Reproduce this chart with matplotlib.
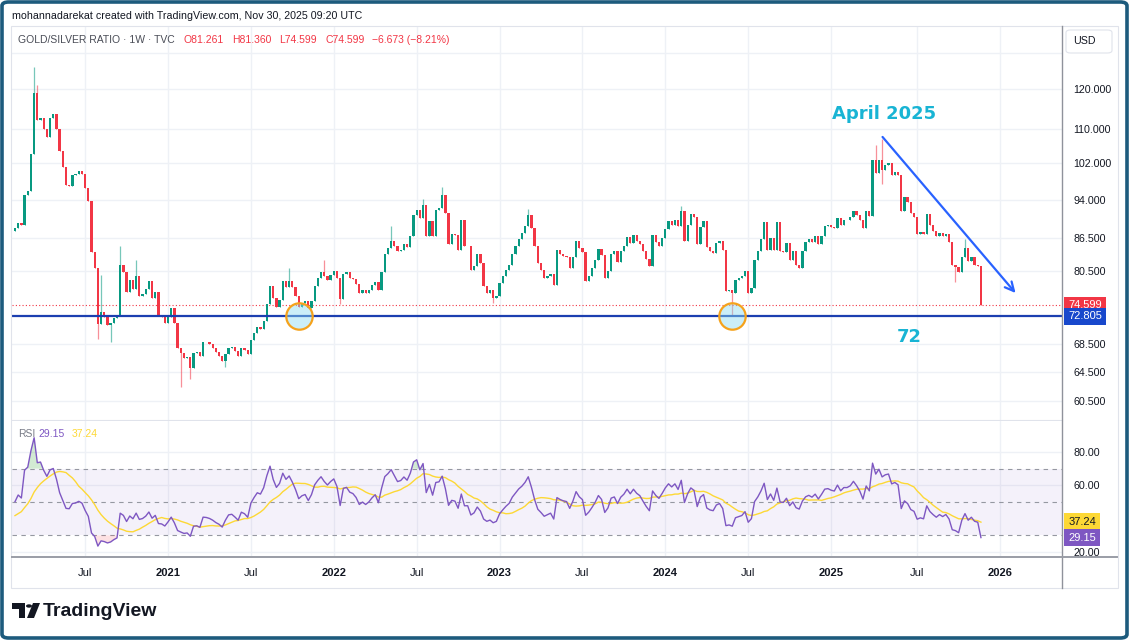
import numpy as np
import pandas as pd
import matplotlib
matplotlib.use("Agg")
import matplotlib.pyplot as plt
import matplotlib.dates as mdates
import matplotlib.transforms as mtransforms
from matplotlib.patches import FancyBboxPatch, Rectangle, Polygon, Circle
from matplotlib.lines import Line2D
from matplotlib.ticker import FixedLocator, NullLocator

plt.rcParams['font.family'] = ['Liberation Sans', 'DejaVu Sans']

# ---------------- data (weekly GOLD/SILVER ratio) ----------------
closes = [
    88.4, 89.4, 89.0, 95.0, 96.0, 104.0, 119.0, 112.0, 112.6, 110.0,
    108.0, 112.5, 113.5, 110.0, 104.7, 101.2, 97.2, 97.0, 99.3, 99.5,
    100.2, 99.5, 96.5, 93.8, 83.8, 81.0, 71.6, 73.5, 72.8, 71.5,
    71.8, 72.5, 73.0, 81.5, 80.3, 76.8, 78.9, 77.4, 79.5, 76.2,
    76.5, 77.3, 78.7, 75.9, 76.8, 72.9, 72.7, 71.7, 72.8, 74.1,
    71.7, 68.0, 67.2, 66.5, 66.6, 65.0, 67.2, 67.3, 66.7, 68.9,
    68.8, 68.5,
    68.0, 67.3, 66.8, 66.0, 67.1, 68.0, 68.1, 67.5, 66.8, 68.0,
    67.7, 67.0, 69.2, 70.2, 71.1, 70.9, 72.1, 74.9, 77.9, 75.8,
    74.4, 75.5, 78.7, 77.6, 78.7, 77.6, 76.2, 74.3, 75.0, 75.3,
    74.1, 75.4, 77.9, 79.2, 80.3, 79.5, 78.9, 79.8, 80.5, 79.3,
    75.6, 80.0, 80.3, 79.3, 79.0, 78.2, 76.7, 77.2, 76.7, 77.2,
    78.0, 78.6, 77.2, 80.3, 83.6, 84.6, 86.0, 85.0, 84.0,
    84.3, 85.3, 84.8, 86.8, 91.0, 92.0, 90.4, 93.0, 86.8, 89.8,
    86.8, 92.0, 92.3, 95.0, 91.4, 85.3, 87.3, 87.0, 84.2, 90.0,
    85.0, 85.0, 80.6, 81.4, 83.6, 81.8, 77.9, 76.7, 77.1, 75.8,
    76.2, 78.4, 79.6, 80.7, 81.6, 83.6, 85.0, 86.4, 87.4, 88.8,
    91.0, 88.5, 85.0, 81.8, 80.6, 79.2, 79.6, 80.0, 78.0, 84.2,
    83.6, 83.2, 83.0, 81.0, 83.0, 86.0, 84.6, 83.8, 78.7, 79.6,
    80.9, 82.4, 84.5, 83.4, 79.2, 80.5, 83.6, 84.0, 82.0, 84.0,
    85.0, 86.7, 85.5, 87.0, 86.0, 85.4, 84.0, 82.6, 81.4, 87.0,
    85.8, 85.0, 86.5, 88.3, 89.7, 89.0, 90.0, 88.8, 91.8, 86.0,
    89.0, 91.2, 90.5, 85.3, 88.7, 89.7, 84.8, 84.0, 83.7, 85.5,
    86.0, 84.3, 77.0, 77.2, 76.6, 78.9, 79.2, 79.5, 80.5, 76.6,
    77.5, 82.5, 84.1, 86.3, 89.5,
    84.2, 86.5, 84.2, 89.6, 84.0, 83.8, 85.6, 82.5, 84.0, 81.6,
    81.0, 84.0, 85.7, 86.3, 85.7, 86.8, 85.3, 86.9, 88.8, 89.0,
    88.6, 88.4, 90.3, 89.0, 90.0, 90.0, 90.5, 91.8, 91.0, 90.0,
    88.4, 91.8, 90.8, 102.6, 99.8, 102.6, 100.5, 101.6, 102.0, 99.4,
    100.0, 99.4, 91.8, 94.6, 93.6, 91.3, 90.6, 87.3, 87.7, 87.3,
    91.1, 89.0, 87.8, 86.8, 87.5, 86.8, 87.3, 85.8, 81.6, 81.2,
    80.3, 83.0, 84.6, 82.3, 83.0, 81.6, 81.261, 74.599,
]
first_open = 87.9
last_date = "2025-11-24"

# weeks before the visible window, only used to seed the RSI
warmup_closes = [
    86.5, 85.2, 84.0, 86.1, 88.0, 86.3, 84.5, 83.0, 82.8, 84.5,
    83.7, 85.0, 84.6, 85.4, 84.9, 85.6, 86.4, 86.9, 86.2, 85.8,
    86.7, 85.9, 84.8, 85.2, 86.5, 87.3, 87.0, 88.2, 88.9, 88.0,
]

# notable wicks: candle index -> high / low
wick_high = {6: 126.0, 7: 121.0, 27: 79.7, 33: 85.0, 38: 82.4, 86: 81.0, 97: 82.5,
             118: 88.8, 128: 94.2, 134: 96.7, 161: 92.2, 209: 92.8, 270: 106.0,
             272: 107.5, 298: 86.3, 303: 81.36}
wick_low = {26: 69.3, 30: 68.9, 52: 62.4, 55: 63.5, 66: 65.2, 102: 74.8, 150: 75.0,
            225: 72.9, 272: 97.5, 295: 78.6, 303: 74.599}

support_level = 72.805
last_price = 74.599
rsi_last_label = "29.15"
rsi_ma_label = "37.24"

price_ticks = [60.5, 64.5, 68.5, 80.5, 86.5, 94, 102, 110, 120, 130]
rsi_ticks = [20, 60, 80]
tick_dates = ["2020-07-06", "2021-01-04", "2021-07-05", "2022-01-03", "2022-07-04",
              "2023-01-02", "2023-07-03", "2024-01-01", "2024-07-01", "2024-12-30",
              "2025-07-07", "2026-01-05"]
tick_labels = ["Jul", "2021", "Jul", "2022", "Jul", "2023", "Jul", "2024", "Jul",
               "2025", "Jul", "2026"]

legend_parts = ["O81.261", "H81.360", "L74.599", "C74.599", "\u22126.673 (\u22128.21%)"]

circle_dates = ["2021-10-18", "2024-05-27"]
arrow_from = ("2025-04-18", 108.5)
arrow_to = ("2026-02-12", 76.3)
note_april = ("2025-04-26", 113.6)
note_72 = ("2025-06-20", 69.6)

# ---------------- figure ----------------
W, H = 1129, 640
GREEN, RED = "#089981", "#f23645"
GRID = "#eef1f6"

fig = plt.figure(figsize=(W / 100, H / 100), dpi=100)


def fx(px):
    return px / W


def fy(py):
    return 1 - py / H


ax = fig.add_axes([fx(12), fy(420), fx(1050), 394 / H])
ax_rsi = fig.add_axes([fx(12), fy(557), fx(1050), 136 / H])

dates = pd.date_range(end=last_date, periods=len(closes), freq="7D")
x = mdates.date2num(dates)
c = np.array(closes)
o = np.r_[first_open, c[:-1]]
up = c >= o
cols = np.where(up, GREEN, RED)
lo_b = np.minimum(o, c)
hi_b = np.maximum(o, c)

xl = mdates.date2num(pd.Timestamp("2020-01-27 10:00"))
xr = mdates.date2num(pd.Timestamp("2026-05-21"))

# candles
ax.vlines(x, lo_b, hi_b, colors=cols, lw=0.6, zorder=3)
ax.bar(x, hi_b - lo_b, bottom=lo_b, width=5.0, color=cols, linewidth=0, zorder=3)
for i, h in wick_high.items():
    ax.vlines(x[i], hi_b[i], h, color=cols[i], lw=0.9, alpha=0.55, zorder=2)
for i, l in wick_low.items():
    ax.vlines(x[i], l, lo_b[i], color=cols[i], lw=0.9, alpha=0.55, zorder=2)

ax.set_yscale("log")
ax.set_ylim(58.0, 137.8)
ax.set_xlim(xl, xr)

tx = mdates.date2num(pd.to_datetime(tick_dates))
for a in (ax, ax_rsi):
    a.set_xticks(tx)
    a.grid(True, color=GRID, lw=1, zorder=0)
    a.set_axisbelow(True)
    for s in ("top", "left", "right"):
        a.spines[s].set_visible(False)
    a.yaxis.tick_right()
    a.tick_params(axis="both", which="both", length=0, labelsize=7.7, labelcolor="#131722")
    a.tick_params(axis="y", pad=8)
ax.tick_params(axis="x", labelbottom=False)
ax.spines["bottom"].set_color("#e0e3eb")

ax.yaxis.set_major_locator(FixedLocator(price_ticks))
ax.yaxis.set_minor_locator(NullLocator())
ax.set_yticklabels([f"{v:.3f}" if v < 125 else "" for v in price_ticks])

# support line, last price line
ax.axhline(support_level, color="#1c3fb0", lw=1.6, zorder=4)
ax.axhline(last_price, color=RED, lw=0.8, ls=(0, (1, 2)), zorder=1)

# circles at the touches
cx = mdates.date2num(pd.to_datetime(circle_dates))
ax.plot(cx, [support_level] * len(cx), "o", ms=19, mfc=(0.55, 0.86, 0.94, 0.45),
        mec="#f5a21b", mew=1.6, zorder=5)

# downtrend arrow
ax.annotate("", xy=(mdates.date2num(pd.Timestamp(arrow_to[0])), arrow_to[1]),
            xytext=(mdates.date2num(pd.Timestamp(arrow_from[0])), arrow_from[1]),
            arrowprops=dict(arrowstyle="->", color="#2962ff", lw=1.6, mutation_scale=16),
            zorder=6)
ax.text(mdates.date2num(pd.Timestamp(note_april[0])), note_april[1], "April 2025",
        color="#18b4d4", fontsize=13, fontweight="bold", ha="center", va="center",
        family=["DejaVu Sans"])
ax.text(mdates.date2num(pd.Timestamp(note_72[0])), note_72[1], "72",
        color="#18b4d4", fontsize=13, fontweight="bold", ha="center", va="center",
        family=["DejaVu Sans"])

# price labels on the scale
bt = mtransforms.blended_transform_factory(ax.transAxes, ax.transData)
ax.text(1.0058, last_price, f"{last_price:.3f}", transform=bt, fontsize=8, color="white",
        va="center", ha="left", clip_on=False, zorder=10,
        bbox=dict(boxstyle="square,pad=0.35", fc=RED, ec="none"))
ax.text(1.0058, support_level, f"{support_level:.3f}", transform=bt, fontsize=8,
        color="white", va="center", ha="left", clip_on=False, zorder=10,
        bbox=dict(boxstyle="square,pad=0.35", fc="#1848cc", ec="none"))

# ---------------- RSI ----------------
allc = pd.Series(warmup_closes + closes)
d = allc.diff()
gain = d.clip(lower=0).ewm(alpha=1 / 14, adjust=False).mean()
loss = (-d.clip(upper=0)).ewm(alpha=1 / 14, adjust=False).mean()
rsi = 100 - 100 / (1 + gain / loss)
rsi_ma = rsi.rolling(14).mean()
nw = len(warmup_closes)
rsi_v = rsi.values[nw:]
ma_v = rsi_ma.values[nw:]

ax_rsi.axhspan(30, 70, color="#7e57c2", alpha=0.08, lw=0, zorder=1)
for lvl in (70, 50, 30):
    ax_rsi.axhline(lvl, color="#9598a1", lw=0.8, ls=(0, (4, 4)), zorder=2)
ax_rsi.fill_between(x, 70, rsi_v, where=rsi_v > 70, interpolate=True,
                    color="#4caf50", alpha=0.25, lw=0, zorder=2)
ax_rsi.fill_between(x, 30, rsi_v, where=rsi_v < 30, interpolate=True,
                    color="#f23645", alpha=0.15, lw=0, zorder=2)
ax_rsi.plot(x, ma_v, color="#fdd835", lw=1.0, zorder=3)
ax_rsi.plot(x, rsi_v, color="#7e57c2", lw=1.0, zorder=4)
ax_rsi.set_xlim(xl, xr)
ax_rsi.set_ylim(17.0, 98.6)
ax_rsi.yaxis.set_major_locator(FixedLocator(rsi_ticks))
ax_rsi.set_yticklabels([f"{v:.2f}" for v in rsi_ticks])
ax_rsi.set_xticklabels(tick_labels)
ax_rsi.tick_params(axis="x", pad=8)
for t in ax_rsi.get_xticklabels():
    if t.get_text().isdigit():
        t.set_fontweight("bold")
    t.set_fontsize(8)
ax_rsi.spines["bottom"].set_visible(False)

bt2 = mtransforms.blended_transform_factory(ax_rsi.transAxes, ax_rsi.transData)
ax_rsi.text(1.0058, float(ma_v[-1]), rsi_ma_label, transform=bt2, fontsize=8,
            color="#131722", va="center", ha="left", clip_on=False, zorder=10,
            bbox=dict(boxstyle="square,pad=0.35", fc="#fdd835", ec="none"))
ax_rsi.text(1.0058, float(rsi_v[-1]), rsi_last_label, transform=bt2, fontsize=8,
            color="white", va="center", ha="left", clip_on=False, zorder=10,
            bbox=dict(boxstyle="square,pad=0.35", fc="#7e57c2", ec="none"))

# ---------------- frame, header, logo ----------------
fig.add_artist(Rectangle((fx(11), fy(588)), fx(1107), (588 - 26) / H, fill=False,
                         ec="#e0e3eb", lw=0.8))
fig.add_artist(Line2D([fx(1062), fx(1062)], [fy(26), fy(588)], color="#8f929b", lw=1))
fig.add_artist(Line2D([fx(12), fx(1117)], [fy(557), fy(557)], color="#9a9da6", lw=1.4))
fig.add_artist(FancyBboxPatch((fx(1066), fy(53)), fx(46), 23 / H,
                              boxstyle="round,pad=0,rounding_size=0.004",
                              fc="white", ec="#e0e3eb", lw=0.8, zorder=10))
fig.text(fx(1073), fy(41), "USD", fontsize=7.7, color="#131722", va="center", zorder=11)

fig.text(fx(12), fy(16), "mohannadarekat created with TradingView.com, Nov 30, 2025 09:20 UTC",
         fontsize=7.7, color="#131722", va="center")

# legend row: chain the pieces left to right
renderer = fig.canvas.get_renderer()
t0 = fig.text(fx(18), fy(40), "GOLD/SILVER RATIO · 1W · TVC", fontsize=7.5,
              color="#4a4d57", va="center")
px = 18 + t0.get_window_extent(renderer=renderer).width + 9
for s in legend_parts:
    t = fig.text(fx(px), fy(40), s, fontsize=7.5, color=RED, va="center")
    px += t.get_window_extent(renderer=renderer).width + 8

fig.text(fx(18), fy(434), "RSI", fontsize=7.5, color="#787b86", va="center")
fig.text(fx(38), fy(434), rsi_last_label, fontsize=7.5, color="#7e57c2", va="center")
fig.text(fx(72), fy(434), rsi_ma_label, fontsize=7.5, color="#fdd835", va="center")

# TradingView logo mark + word
fig.add_artist(Polygon([(fx(12), fy(603)), (fx(25), fy(603)), (fx(25), fy(618)),
                        (fx(19), fy(618)), (fx(19), fy(609)), (fx(12), fy(609))],
                       closed=True, fc="#131722", ec="none"))
fig.add_artist(Circle((fx(29), fy(606)), 3 / W, fc="#131722", ec="none"))
fig.add_artist(Polygon([(fx(33), fy(603)), (fx(40), fy(603)), (fx(34), fy(618)),
                        (fx(27), fy(618))], closed=True, fc="#131722", ec="none"))
fig.text(fx(43), fy(611), "TradingView", fontsize=14, fontweight="bold", color="#131722",
         va="center")

# outer frame
fig.add_artist(FancyBboxPatch((fx(2), fy(638)), fx(1125), 636 / H,
                              boxstyle="round,pad=0,rounding_size=0.006",
                              fill=False, ec="#1d5b7d", lw=2.6))

fig.savefig("out.png", dpi=100)
